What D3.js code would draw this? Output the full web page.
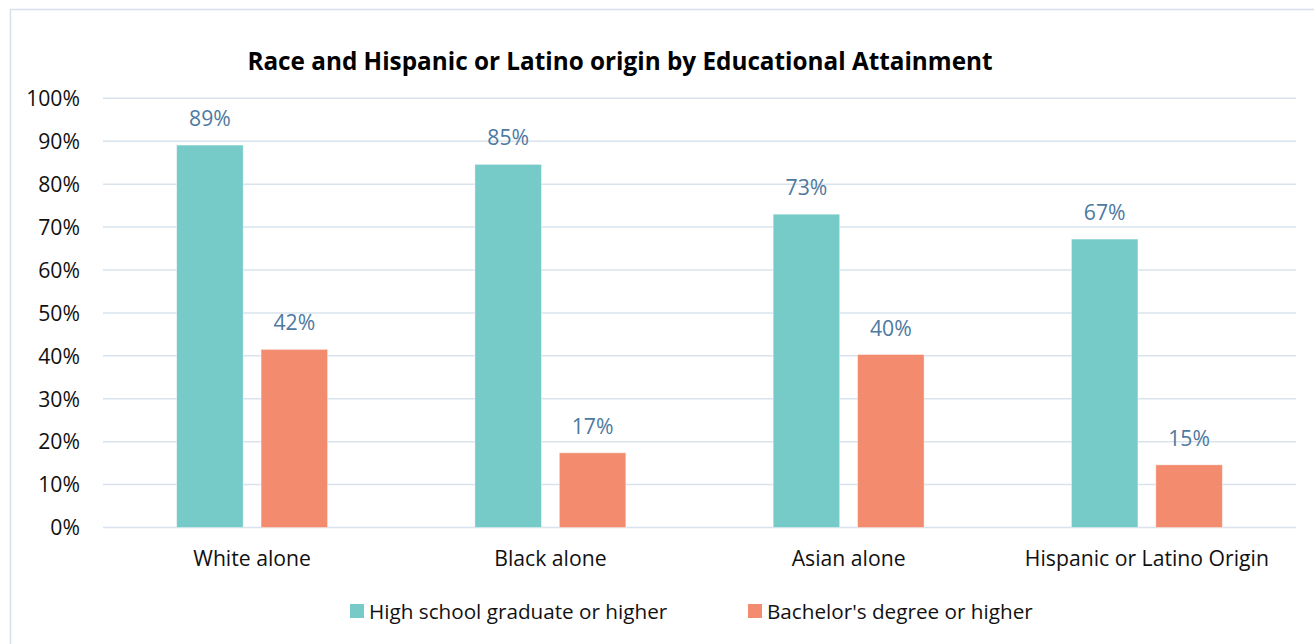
<!DOCTYPE html>
<html>
<head>
<meta charset="utf-8">
<script src="https://cdn.jsdelivr.net/npm/d3@7"></script>
<style>
  html, body { margin: 0; padding: 0; background: #fff; }
  svg { display: block; font-family: "Open Sans", Lato, sans-serif; }
</style>
</head>
<body>
<svg id="chart" width="1314" height="644"></svg>
<script>
// Educational attainment by race and Hispanic or Latino origin
const categories = ["White alone", "Black alone", "Asian alone", "Hispanic or Latino Origin"];
const seriesNames = ["High school graduate or higher", "Bachelor's degree or higher"];
const highSchool = [0.891, 0.846, 0.730, 0.672];
const bachelors = [0.415, 0.174, 0.403, 0.146];
const yTicks = [0, 0.1, 0.2, 0.3, 0.4, 0.5, 0.6, 0.7, 0.8, 0.9, 1.0];
const colors = ["#76cbc9", "#f38c6e"];

const svg = d3.select("#chart");
const W = 1314, H = 644;
const labelSize = 21.2;

// chart frame
svg.append("rect")
  .attr("x", 10.5).attr("y", 9.5)
  .attr("width", W + 10).attr("height", H + 10)
  .attr("fill", "#fff")
  .attr("stroke", "#d6e0eb").attr("stroke-width", 1.5);

const plot = { left: 103, right: 1296, top: 98.3, bottom: 527.5 };

const x = d3.scaleBand().domain(categories).range([plot.left, plot.right]);
const y = d3.scaleLinear().domain([0, 1]).range([plot.bottom, plot.top]);

const barW = x.bandwidth() * 0.223;
const gap = x.bandwidth() * 0.06;
const series = [highSchool, bachelors];

// gridlines
svg.append("g")
  .selectAll("line")
  .data(yTicks)
  .join("line")
  .attr("x1", plot.left).attr("x2", plot.right)
  .attr("y1", d => y(d)).attr("y2", d => y(d))
  .attr("stroke", "#d9e3ee").attr("stroke-width", 1.5);

// y axis labels
const yAxis = d3.axisLeft(y).tickValues(yTicks).tickFormat(d3.format(".0%")).tickSize(0).tickPadding(0);
const yg = svg.append("g").attr("transform", `translate(80,0.5)`).call(yAxis);
yg.select(".domain").remove();
yg.selectAll("text")
  .attr("font-size", labelSize).attr("fill", "#111")
  .attr("font-family", "'Open Sans', sans-serif");

// bars with value labels
const fmt = d3.format(".0%");
series.forEach((vals, si) => {
  const offset = si === 0 ? -(gap / 2 + barW) : gap / 2;
  const rows = categories.map((c, i) => ({ c, v: vals[i] }));
  const g = svg.append("g");
  g.selectAll("rect")
    .data(rows)
    .join("rect")
    .attr("x", d => x(d.c) + x.bandwidth() / 2 + offset)
    .attr("y", d => y(d.v))
    .attr("width", barW)
    .attr("height", d => y(0) - y(d.v))
    .attr("fill", colors[si])
    .attr("stroke", "#fff").attr("stroke-opacity", 0.5).attr("stroke-width", 0.75);
  g.selectAll("text")
    .data(rows)
    .join("text")
    .attr("x", d => x(d.c) + x.bandwidth() / 2 + offset + barW / 2)
    .attr("y", d => y(d.v) - 19)
    .attr("text-anchor", "middle")
    .attr("font-size", labelSize)
    .attr("fill", "#4e79a0")
    .text(d => fmt(d.v));
});

// category labels
const xAxis = d3.axisBottom(x).tickSize(0).tickPadding(0);
const xg = svg.append("g").attr("transform", `translate(0,566)`).call(xAxis);
xg.select(".domain").remove();
xg.selectAll("text")
  .attr("dy", 0)
  .attr("font-size", labelSize).attr("fill", "#111")
  .attr("font-family", "'Open Sans', sans-serif");

// title
svg.append("text")
  .attr("x", 620).attr("y", 70)
  .attr("text-anchor", "middle")
  .attr("font-size", 24.3).attr("font-weight", "bold")
  .attr("fill", "#000")
  .text("Race and Hispanic or Latino origin by Educational Attainment");

// legend
const legendItems = [
  { name: seriesNames[0], color: colors[0], x: 350 },
  { name: seriesNames[1], color: colors[1], x: 748 }
];
const lg = svg.append("g").selectAll("g").data(legendItems).join("g")
  .attr("transform", d => `translate(${d.x},604)`);
lg.append("rect").attr("width", 14).attr("height", 14).attr("fill", d => d.color);
lg.append("text")
  .attr("x", 19).attr("y", 14.5)
  .attr("font-size", 20.7).attr("fill", "#111")
  .text(d => d.name);
</script>
</body>
</html>
